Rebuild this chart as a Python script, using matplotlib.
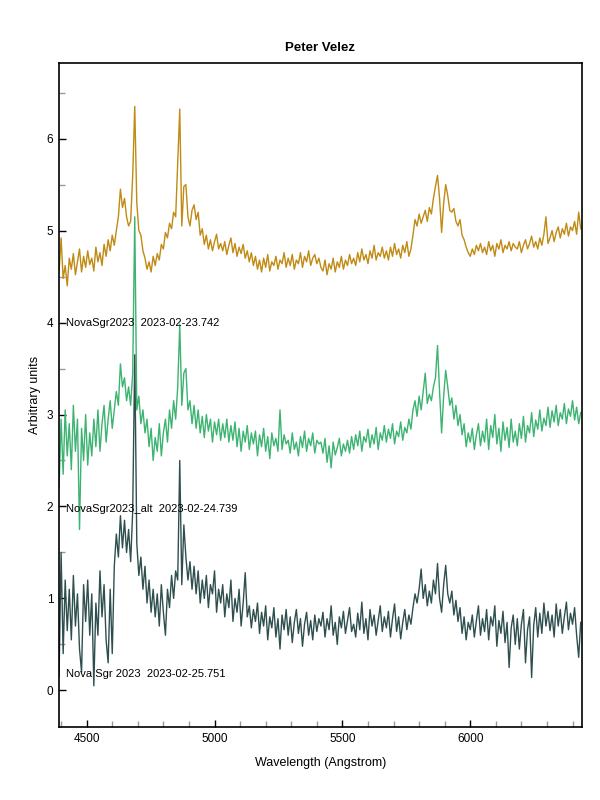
"""Nova Sgr 2023 spectra, stacked with offsets."""

import matplotlib
matplotlib.use("Agg")
import matplotlib.pyplot as plt
import numpy as np
from matplotlib.ticker import MultipleLocator

plt.rcParams['font.family'] = ['Liberation Sans', 'DejaVu Sans']

# wavelength grid (Angstrom), 8 A sampling
wavelength = np.arange(4392, 6440, 8)

flux_0223 = [
    4.55, 4.92, 4.48, 4.62, 4.40, 4.70, 4.58, 4.75, 4.52, 4.66, 4.80, 4.55, 4.72, 4.60, 4.78, 4.63,
    4.70, 4.56, 4.82, 4.66, 4.76, 4.62, 4.85, 4.72, 4.90, 4.78, 4.95, 4.84, 5.00, 5.15, 5.45, 5.25,
    5.35, 5.15, 5.05, 5.10, 5.60, 6.35, 5.30, 5.00, 4.95, 4.78, 4.70, 4.58, 4.66, 4.55, 4.72, 4.62,
    4.75, 4.68, 4.85, 4.80, 4.98, 4.92, 5.08, 5.02, 5.20, 5.15, 5.75, 6.32, 5.05, 5.48, 5.50, 5.15,
    5.05, 5.22, 5.28, 5.12, 5.20, 4.95, 5.02, 4.85, 4.95, 4.80, 4.90, 4.78, 4.88, 4.96, 4.80, 4.86,
    4.78, 4.88, 4.74, 4.84, 4.92, 4.76, 4.86, 4.72, 4.82, 4.75, 4.85, 4.70, 4.78, 4.66, 4.76, 4.62,
    4.72, 4.58, 4.68, 4.55, 4.70, 4.60, 4.74, 4.56, 4.66, 4.62, 4.72, 4.58, 4.68, 4.64, 4.76, 4.60,
    4.70, 4.62, 4.74, 4.58, 4.68, 4.64, 4.76, 4.60, 4.72, 4.66, 4.78, 4.62, 4.70, 4.74, 4.64, 4.70,
    4.60, 4.56, 4.68, 4.52, 4.64, 4.58, 4.70, 4.55, 4.66, 4.60, 4.72, 4.58, 4.68, 4.62, 4.74, 4.64,
    4.70, 4.62, 4.76, 4.66, 4.80, 4.68, 4.74, 4.64, 4.78, 4.70, 4.84, 4.68, 4.76, 4.72, 4.82, 4.70,
    4.78, 4.68, 4.82, 4.72, 4.86, 4.74, 4.80, 4.70, 4.84, 4.76, 4.88, 4.72, 4.80, 4.95, 5.12, 5.05,
    5.18, 5.08, 5.15, 5.22, 5.10, 5.25, 5.18, 5.35, 5.48, 5.60, 5.35, 4.98, 5.30, 5.50, 5.38, 5.22,
    5.20, 5.24, 5.10, 5.05, 5.12, 4.95, 4.90, 4.82, 4.76, 4.72, 4.80, 4.74, 4.84, 4.78, 4.86, 4.76,
    4.82, 4.74, 4.88, 4.78, 4.84, 4.72, 4.86, 4.80, 4.90, 4.76, 4.84, 4.80, 4.88, 4.78, 4.86, 4.82,
    4.80, 4.88, 4.76, 4.84, 4.90, 4.80, 4.86, 4.94, 4.82, 4.88, 4.80, 4.92, 4.84, 4.96, 5.15, 4.86,
    4.92, 5.00, 4.88, 4.98, 5.04, 4.92, 5.02, 4.96, 5.08, 4.94, 5.04, 5.00, 5.10, 4.96, 5.20, 5.02,
]

flux_0224 = [
    2.20, 2.95, 2.35, 3.05, 2.55, 2.90, 2.40, 3.10, 2.60, 2.95, 1.75, 2.85, 2.50, 3.00, 2.45, 2.80,
    2.55, 2.95, 2.65, 3.05, 2.60, 2.90, 3.10, 2.70, 2.95, 3.15, 2.85, 3.05, 3.25, 3.10, 3.55, 3.30,
    3.40, 3.15, 3.30, 3.10, 3.45, 5.15, 3.05, 3.20, 2.90, 3.05, 2.80, 2.95, 2.65, 2.85, 2.50, 2.75,
    2.60, 2.90, 2.55, 2.80, 2.95, 2.70, 3.05, 2.85, 3.15, 2.95, 3.30, 3.98, 3.10, 3.45, 3.50, 3.05,
    3.15, 2.90, 3.10, 2.85, 3.05, 2.80, 2.98, 2.75, 3.00, 2.82, 2.95, 2.70, 2.92, 2.78, 2.95, 2.72,
    2.90, 2.75, 2.95, 2.70, 2.88, 2.72, 2.92, 2.65, 2.85, 2.60, 2.82, 2.70, 2.88, 2.62, 2.80, 2.68,
    2.82, 2.55, 2.78, 2.65, 2.85, 2.60, 2.76, 2.52, 2.80, 2.66, 2.74, 2.60, 3.05, 2.62, 2.78, 2.68,
    2.72, 2.58, 2.80, 2.62, 2.70, 2.55, 2.76, 2.64, 2.82, 2.60, 2.74, 2.66, 2.80, 2.58, 2.72, 2.68,
    2.70, 2.58, 2.74, 2.48, 2.66, 2.42, 2.70, 2.56, 2.64, 2.74, 2.55, 2.68, 2.60, 2.72, 2.58, 2.76,
    2.62, 2.78, 2.66, 2.82, 2.60, 2.76, 2.70, 2.84, 2.64, 2.78, 2.68, 2.86, 2.62, 2.80, 2.72, 2.88,
    2.70, 2.84, 2.74, 2.90, 2.68, 2.82, 2.76, 2.92, 2.72, 2.86, 2.80, 2.95, 2.84, 3.05, 3.15, 2.98,
    3.20, 3.05, 3.25, 3.45, 3.12, 3.22, 3.15, 3.30, 3.40, 3.75, 3.25, 2.80, 3.20, 3.48, 3.30, 3.10,
    3.18, 2.95, 3.10, 2.88, 3.00, 2.78, 2.90, 2.65, 2.80, 2.70, 2.85, 2.62, 2.78, 2.90, 2.66, 2.82,
    2.70, 2.95, 2.62, 2.88, 2.75, 3.00, 2.68, 2.85, 2.60, 2.92, 2.72, 2.86, 2.64, 2.95, 2.70, 2.82,
    2.66, 2.90, 2.74, 2.98, 2.70, 2.88, 2.80, 3.02, 2.76, 2.94, 2.84, 3.05, 2.82, 2.96, 2.88, 3.08,
    2.86, 3.04, 2.92, 3.10, 2.88, 3.02, 2.95, 3.12, 2.90, 3.06, 2.98, 3.15, 2.94, 3.08, 2.90, 3.02,
]

flux_0225 = [
    0.15, 1.50, 0.40, 1.20, 0.65, 1.10, 0.55, 1.25, 0.70, 1.05, 0.45, 0.20, 1.15, 0.75, 1.20, 0.60,
    1.05, 0.05, 0.95, 0.60, 1.30, 0.80, 1.15, 0.55, 0.30, 1.10, 0.40, 1.35, 1.70, 1.45, 1.90, 1.55,
    1.85, 1.50, 1.75, 1.40, 1.95, 3.65, 1.60, 1.25, 1.45, 1.10, 1.35, 0.95, 1.20, 0.85, 1.10, 0.80,
    1.05, 0.70, 1.15, 0.85, 0.60, 1.10, 0.90, 1.25, 1.00, 1.30, 1.20, 2.50, 1.15, 1.80, 1.45, 1.20,
    1.40, 1.10, 1.35, 1.05, 1.30, 0.95, 1.20, 1.00, 1.25, 0.90, 1.15, 1.05, 1.30, 0.85, 1.10, 0.95,
    1.15, 0.80, 1.05, 0.90, 1.20, 0.75, 1.00, 0.85, 1.10, 0.70, 0.95, 1.28, 0.80, 0.92, 0.68, 0.88,
    0.75, 0.95, 0.62, 0.85, 0.70, 0.92, 0.55, 0.80, 0.68, 0.90, 0.58, 0.78, 0.45, 0.82, 0.66, 0.88,
    0.60, 0.80, 0.52, 0.74, 0.88, 0.62, 0.78, 0.48, 0.72, 0.85, 0.60, 0.76, 0.55, 0.82, 0.64, 0.78,
    0.70, 0.85, 0.58, 0.78, 0.66, 0.92, 0.60, 0.74, 0.50, 0.80, 0.68, 0.86, 0.62, 0.76, 0.90, 0.64,
    0.72, 0.58, 0.84, 0.66, 0.96, 0.62, 0.78, 0.55, 0.88, 0.70, 0.82, 0.60, 0.76, 0.92, 0.64, 0.80,
    0.68, 0.86, 0.58, 0.78, 0.94, 0.64, 0.80, 0.56, 0.74, 0.88, 0.66, 0.82, 0.72, 0.90, 1.05, 0.95,
    1.10, 1.32, 1.00, 1.15, 0.92, 1.08, 0.95, 1.20, 1.05, 1.38, 1.00, 0.85, 1.15, 1.36, 1.05, 0.95,
    1.08, 0.82, 0.98, 0.75, 0.90, 0.62, 0.80, 0.55, 0.74, 0.66, 0.82, 0.58, 0.76, 0.92, 0.60, 0.78,
    0.64, 0.88, 0.55, 0.80, 0.70, 0.92, 0.48, 0.76, 0.62, 0.86, 0.52, 0.74, 0.25, 0.68, 0.82, 0.50,
    0.78, 0.45, 0.72, 0.88, 0.30, 0.66, 0.80, 0.14, 0.70, 0.90, 0.58, 0.84, 0.62, 0.95, 0.70, 0.86,
    0.65, 0.82, 0.58, 0.94, 0.70, 0.88, 0.62, 0.80, 0.96, 0.66, 0.84, 0.72, 0.90, 0.60, 0.36, 0.74,
]

labels = [
    "NovaSgr2023  2023-02-23.742",
    "NovaSgr2023_alt  2023-02-24.739",
    "Nova Sgr 2023  2023-02-25.751",
]
label_y = [4.0, 1.97, 0.18]
colors = ['#C08A14', '#3CB371', '#2F4F4F']

fig = plt.figure(figsize=(6, 8), dpi=100)
ax = fig.add_axes([0.098, 0.091, 0.872, 0.830])

for flux, color in zip([flux_0223, flux_0224, flux_0225], colors):
    ax.plot(wavelength, flux, color=color, linewidth=1.0)

for text, y in zip(labels, label_y):
    ax.text(4418, y, text, fontsize=8, va='center', ha='left', color='black')

ax.set_xlim(4391, 6437)
ax.set_ylim(-0.40, 6.82)
ax.xaxis.set_major_locator(MultipleLocator(500))
ax.xaxis.set_minor_locator(MultipleLocator(100))
ax.yaxis.set_major_locator(MultipleLocator(1))
ax.yaxis.set_minor_locator(MultipleLocator(0.5))
ax.tick_params(which='major', direction='in', length=5, width=1, labelsize=8.5, pad=4)
ax.tick_params(which='minor', direction='in', length=4, width=1, color='#999999')
for spine in ax.spines.values():
    spine.set_linewidth(1.2)

ax.set_title("Peter Velez", fontsize=9.5, fontweight='bold', pad=9)
ax.set_xlabel("Wavelength (Angstrom)", fontsize=9, labelpad=9)
ax.set_ylabel("Arbitrary units", fontsize=9, labelpad=4)

fig.savefig("out.png", dpi=100)
